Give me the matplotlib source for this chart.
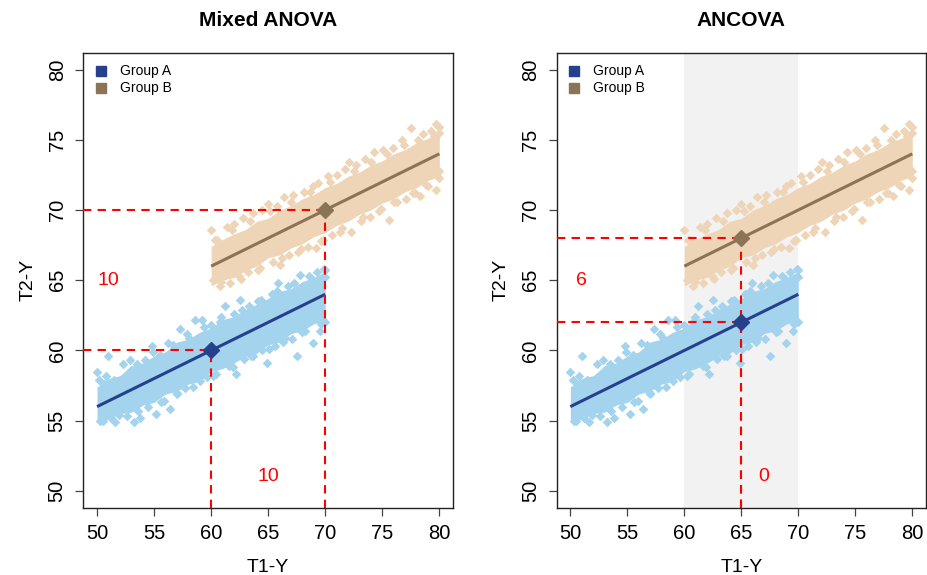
import matplotlib
matplotlib.use("Agg")
import matplotlib.pyplot as plt

plt.rcParams['font.family'] = ['Liberation Sans', 'DejaVu Sans']

# ---------------- data ----------------
panel_titles = ["Mixed ANOVA", "ANCOVA"]
x_label = "T1-Y"
y_label = "T2-Y"
ticks = [50, 55, 60, 65, 70, 75, 80]
group_names = ["Group A", "Group B"]

# regression lines (T1 start/end, T2 start/end)
lineA_x = [50, 70]
lineA_y = [56, 64]
lineB_x = [60, 80]
lineB_y = [66, 74]

# dense core of each point cloud (lower / upper edge)
coreA_x = [50, 51, 52, 53, 54, 55, 56, 57, 58, 59, 60,
           61, 62, 63, 64, 65, 66, 67, 68, 69, 70]
coreA_lo = [55.0, 55.1, 55.5, 55.6, 56.1, 56.3, 56.9, 57.1, 57.6, 57.8, 58.5,
            58.7, 59.1, 59.6, 59.8, 60.4, 60.6, 61.2, 61.4, 61.9, 62.1]
coreA_hi = [57.4, 58.0, 58.2, 58.9, 59.1, 59.6, 59.9, 60.6, 60.8, 61.3, 61.6,
            62.2, 62.4, 62.9, 63.3, 63.7, 64.2, 64.4, 64.9, 65.2, 65.6]
coreB_x = [60, 61, 62, 63, 64, 65, 66, 67, 68, 69, 70,
           71, 72, 73, 74, 75, 76, 77, 78, 79, 80]
coreB_lo = [64.6, 65.0, 65.2, 65.7, 66.0, 66.6, 66.8, 67.3, 67.6, 68.1, 68.4,
            68.9, 69.2, 69.7, 70.0, 70.5, 70.8, 71.3, 71.6, 72.1, 72.4]
coreB_hi = [67.4, 67.9, 68.3, 68.6, 69.2, 69.4, 70.0, 70.3, 70.8, 71.1, 71.6,
            71.9, 72.4, 72.7, 73.2, 73.5, 74.0, 74.3, 74.8, 75.1, 75.5]

# scattered points at the ragged edges of the clouds
ptsA_x = [50.0, 50.3, 50.6, 51.0, 51.2, 51.5, 51.9, 52.3, 52.6, 53.0, 53.2, 53.5,
          53.8, 54.2, 54.5, 54.8, 55.2, 55.5, 55.9, 56.4, 56.7, 57.0, 57.3, 57.7,
          58.1, 58.6, 59.0, 59.2, 59.6, 60.0, 60.4, 60.8, 61.2, 61.6, 62.0, 62.2,
          62.5, 62.9, 63.3, 63.7, 64.1, 64.5, 64.9, 65.3, 65.6, 65.9, 66.3, 66.7,
          67.1, 67.5, 67.8, 68.2, 68.6, 68.9, 69.3, 69.5, 69.8, 70.0, 70.0, 69.9,
          50.8, 51.6, 52.9, 53.6, 54.9, 55.6, 56.2, 57.0, 57.9, 58.4, 59.4, 60.2,
          60.9, 61.9, 62.7, 63.5, 64.4, 65.1, 65.8, 66.5, 67.3, 68.0, 68.8, 69.6,
          70.0, 50.2, 50.5]
ptsA_y = [58.5, 55.0, 57.6, 59.6, 55.2, 57.9, 55.4, 59.0, 55.3, 58.6, 54.9, 59.0,
          55.2, 59.3, 56.0, 60.3, 55.5, 59.7, 56.4, 55.8, 60.4, 57.0, 61.5, 57.3,
          60.9, 62.2, 57.8, 62.2, 58.1, 61.8, 58.3, 62.0, 63.2, 58.9, 62.6, 58.3,
          63.6, 59.4, 63.2, 59.6, 63.5, 60.0, 59.1, 64.0, 60.3, 64.8, 60.6, 64.6,
          60.8, 59.6, 65.4, 61.4, 65.3, 60.5, 65.6, 61.4, 62.2, 65.2, 62.0, 65.8,
          58.2, 54.9, 59.3, 55.7, 59.9, 56.3, 60.5, 56.9, 61.2, 57.4, 61.7, 58.2,
          62.4, 58.8, 62.9, 59.6, 63.6, 60.1, 64.2, 60.9, 64.8, 61.3, 65.1, 61.9,
          65.7, 57.9, 55.0]
ptsB_x = [60.0, 60.2, 60.5, 60.9, 61.4, 61.65, 62.0, 62.4, 62.8, 63.2, 63.7, 64.1,
          64.5, 65.0, 65.4, 65.8, 66.0, 66.4, 66.8, 67.2, 67.6, 68.1, 68.5, 68.9,
          69.2, 69.4, 69.8, 70.2, 70.6, 71.0, 71.3, 71.7, 72.1, 72.3, 72.7, 73.1,
          73.5, 73.9, 74.3, 74.7, 75.1, 75.6, 75.9, 76.3, 76.7, 77.1, 77.5, 77.9,
          78.3, 78.6, 79.0, 79.3, 79.7, 79.7, 80.0, 80.0,
          60.3, 60.8, 61.8, 62.6, 63.4, 64.3, 65.2, 66.2, 67.0, 67.9, 68.7, 69.6,
          70.4, 71.5, 72.5, 73.3, 74.0, 74.9, 75.4, 76.0, 76.9, 77.7, 78.1, 78.8,
          79.5, 80.0, 80.0]
ptsB_y = [68.6, 65.0, 67.9, 64.9, 68.8, 64.8, 69.0, 65.3, 69.4, 65.6, 69.8, 65.7,
          70.0, 70.4, 66.3, 70.3, 66.1, 70.9, 66.8, 71.1, 67.0, 71.3, 67.4, 71.7,
          67.3, 71.9, 67.9, 72.4, 68.2, 72.5, 68.4, 72.9, 73.4, 68.4, 73.2, 69.2,
          73.6, 69.5, 74.1, 69.9, 74.3, 69.3, 74.4, 70.6, 75.0, 70.8, 75.85, 71.2,
          71.0, 75.4, 71.7, 75.6, 76.1, 71.45, 72.3, 75.5,
          67.9, 64.6, 68.6, 65.1, 69.2, 65.9, 69.9, 66.6, 70.6, 67.2, 71.3, 67.8,
          72.0, 68.7, 72.8, 69.5, 73.4, 70.1, 74.0, 70.6, 74.6, 71.2, 75.0, 71.8,
          75.3, 72.8, 75.9]

# group means highlighted in each panel: (xA, yA), (xB, yB)
meanA = [(60, 60), (65, 62)]
meanB = [(70, 70), (65, 68)]
# differences written in each panel: (text, x, y) for T2 and T1
diff_t2 = [("10", 51, 65), ("6", 51, 65)]
diff_t1 = [("10", 65, 51), ("0", 67, 51)]
shade_range = [None, (60, 70)]

# ---------------- style ----------------
ptsA_col = "#A4D3EE"
ptsB_col = "#EED5B7"
lineA_col = "#27408B"
lineB_col = "#8B7355"
XL = (48.8, 81.2)

fig = plt.figure(figsize=(9.27, 5.75), dpi=100)
axes = [fig.add_axes([0.0899, 0.117, 0.3988, 0.7913]),
        fig.add_axes([0.6005, 0.117, 0.3984, 0.7913])]

for i, ax in enumerate(axes):
    ax.set_xlim(*XL)
    ax.set_ylim(*XL)
    if shade_range[i] is not None:
        ax.axvspan(shade_range[i][0], shade_range[i][1], color="#F2F2F2", lw=0, zorder=0)

    # clouds
    ax.fill_between(coreA_x, coreA_lo, coreA_hi, color=ptsA_col, lw=0, zorder=1)
    ax.scatter(ptsA_x, ptsA_y, marker="D", s=24, color=ptsA_col, lw=0, zorder=1)
    ax.fill_between(coreB_x, coreB_lo, coreB_hi, color=ptsB_col, lw=0, zorder=1)
    ax.scatter(ptsB_x, ptsB_y, marker="D", s=24, color=ptsB_col, lw=0, zorder=1)

    # regression lines
    ax.plot(lineA_x, lineA_y, color=lineA_col, lw=2.2, zorder=3, solid_capstyle="butt")
    ax.plot(lineB_x, lineB_y, color=lineB_col, lw=2.2, zorder=3, solid_capstyle="butt")

    # dashed guides
    (ax_, ay_), (bx_, by_) = meanA[i], meanB[i]
    dkw = dict(color="red", lw=1.5, dashes=(4, 3), zorder=4)
    ax.plot([XL[0], ax_], [ay_, ay_], **dkw)
    ax.plot([XL[0], bx_], [by_, by_], **dkw)
    ax.plot([ax_, ax_], [XL[0], ay_], **dkw)
    ax.plot([bx_, bx_], [XL[0], by_], **dkw)

    # means
    ax.plot([ax_], [ay_], marker="D", ms=8, color=lineA_col, lw=0, zorder=5)
    ax.plot([bx_], [by_], marker="D", ms=8, color=lineB_col, lw=0, zorder=5)

    # difference labels
    for t, x, y in (diff_t2[i], diff_t1[i]):
        ax.text(x, y, t, color="red", fontsize=14, ha="center", va="center", zorder=6)

    # legend
    for k, (name, col) in enumerate(zip(group_names, [lineA_col, lineB_col])):
        yy = 0.960 - k * 0.038
        ax.plot([0.047], [yy], marker="s", ms=7, color=col, lw=0,
                transform=ax.transAxes, zorder=6)
        ax.text(0.099, yy, name, fontsize=10, ha="left", va="center",
                transform=ax.transAxes, zorder=6)

    ax.set_xticks(ticks)
    ax.set_yticks(ticks)
    ax.set_xticklabels([str(t) for t in ticks])
    ax.set_yticklabels([str(t) for t in ticks], rotation=90, va="center")
    ax.tick_params(axis="both", direction="out", length=6, width=0.9,
                   color="#444444", labelsize=14.5)
    ax.tick_params(axis="x", pad=6)
    ax.tick_params(axis="y", pad=6)
    for sp in ax.spines.values():
        sp.set_linewidth(1.0)
        sp.set_color("#222222")

    ax.set_xlabel(x_label, fontsize=14, labelpad=11)
    ax.set_ylabel(y_label, fontsize=14, labelpad=8)
    ax.set_title(panel_titles[i], fontsize=15, fontweight="bold", pad=19)

fig.savefig("out.png", dpi=100)
